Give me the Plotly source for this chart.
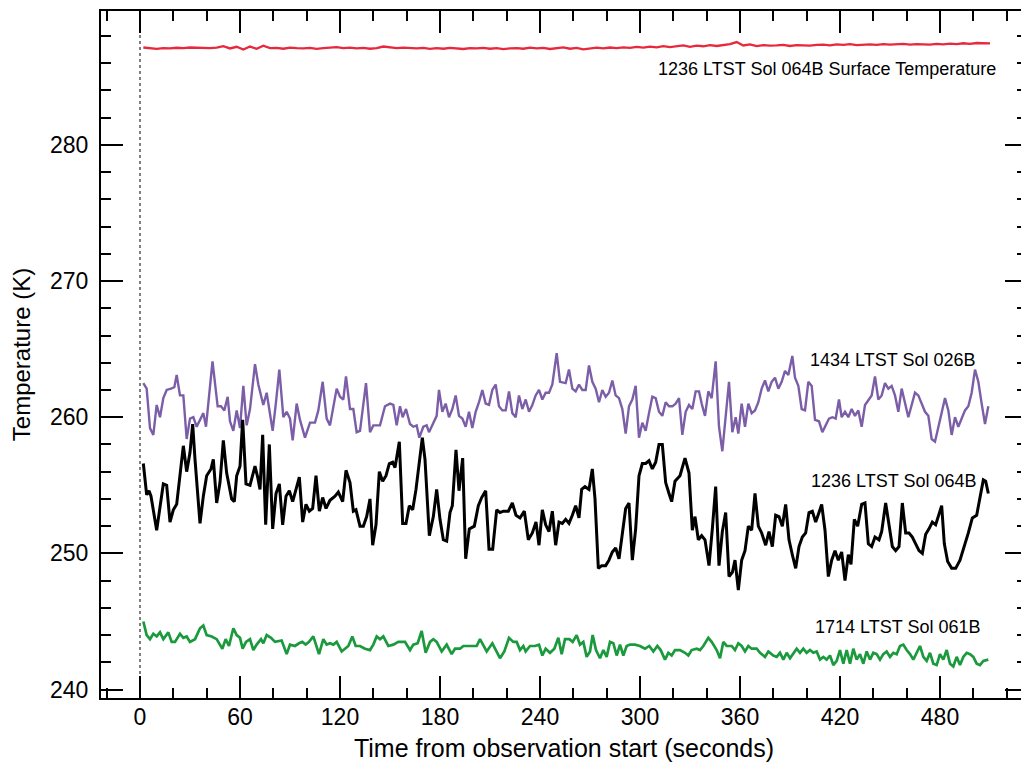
import plotly.graph_objects as go

# ---------------- data ----------------
black_t = [2, 4, 5.4, 6.6, 10, 14, 16, 18, 20, 22, 26, 28, 30, 31.6, 33, 36, 38, 40, 42.6, 44,
           46, 48, 50, 52, 55, 56.6, 58, 60, 61.6, 63.6, 66, 69, 70.6, 72, 73.6, 75.4, 77.6, 79.6, 81.6, 83.6,
           85.6, 87.6, 89.6, 91.6, 93.6, 95.6, 97.6, 99.6, 101.6, 103.6, 105.6, 107.6, 109.6, 111.6, 114, 117, 119, 121.6, 123.6, 126,
           128, 129.6, 132, 134, 136, 138, 139.6, 141.6, 143.6, 145.6, 147.6, 149.6, 151.6, 153, 155.6, 157.6, 159.6, 161.6, 163.6, 165.6,
           169.4, 171, 173.6, 176, 178, 180, 182, 184, 186, 187.4, 189.6, 191.4, 193.6, 195.4, 197.6, 200.6, 203, 205, 207.4, 209.4,
           211.6, 214, 216, 218, 221, 223.4, 225.6, 228, 230.6, 233, 235.4, 237.6, 239.4, 241.4, 243.4, 245.4, 247.4, 249.4, 251.4, 253.4,
           255.4, 257.4, 259.4, 261.4, 263.4, 265, 267, 269.4, 271.4, 273, 275, 277, 279.4, 281.4, 283.4, 285.4, 287.4, 289.4, 291.4, 293.4,
           295.4, 297.4, 299.4, 301.4, 303.4, 305.4, 307.4, 309.4, 311.4, 313.4, 315.4, 317.4, 319, 321, 324, 327, 329.4, 331.4, 333, 335,
           337, 339, 341.4, 343.4, 345.4, 347.4, 349.4, 351.4, 353.4, 355.4, 357, 359, 361, 363, 365, 367, 369, 371, 373, 375.4,
           377.4, 379.4, 381.4, 383.4, 385.4, 387.4, 389.4, 391.4, 393.4, 395.4, 397.4, 399.4, 401.4, 403.4, 405.4, 407.4, 409, 411, 413, 415,
           417, 419, 421, 423, 425, 426.6, 428.6, 430.6, 433, 435, 437, 439, 441, 443.4, 445, 447.4, 449.4, 451.4, 453.4, 455.4,
           457.4, 459.4, 461.4, 463.4, 465.4, 467.4, 469.4, 471.4, 473.4, 475.4, 477.4, 479, 481, 482.6, 484.6, 487, 489.4, 492, 494.6, 497,
           499.4, 502, 504, 506, 507.4, 509]
black_T = [256.6, 254.3, 254.6, 254.2, 251.7, 255.1, 255.0, 252.3, 253.2, 253.6, 257.9, 256.0, 257.4, 259.5, 256.9, 252.2, 254.2, 255.7, 256.2, 256.9,
           253.7, 255.2, 258.3, 255.9, 254.0, 253.8, 255.7, 256.4, 259.8, 255.1, 255.0, 256.4, 255.6, 254.7, 258.7, 252.1, 258.0, 251.8, 254.4, 255.1,
           252.1, 254.2, 254.6, 253.8, 254.7, 255.6, 252.3, 253.6, 253.1, 253.3, 255.7, 253.1, 254.1, 253.3, 253.9, 254.2, 254.5, 253.8, 256.1, 255.2,
           253.1, 253.2, 252.0, 252.0, 252.7, 254.0, 250.6, 252.1, 256.0, 255.3, 255.7, 256.6, 256.7, 256.3, 258.2, 252.2, 252.2, 253.5, 253.2, 254.7,
           258.5, 256.9, 251.3, 252.7, 254.7, 252.5, 251.0, 250.9, 253.0, 253.5, 257.6, 254.6, 257.0, 249.6, 251.8, 252.0, 253.5, 254.1, 254.6, 250.3,
           250.3, 253.2, 253.0, 253.1, 253.1, 253.7, 252.8, 252.6, 253.1, 251.0, 251.5, 252.3, 250.6, 253.2, 252.1, 251.6, 253.1, 250.6, 252.3, 252.2,
           252.5, 252.2, 252.8, 253.5, 252.6, 254.7, 254.9, 254.7, 256.2, 254.0, 248.9, 249.1, 249.1, 249.5, 250.1, 250.4, 249.6, 251.5, 253.3, 253.7,
           249.5, 251.8, 255.7, 256.6, 256.6, 256.8, 256.2, 256.7, 258.0, 258.0, 255.2, 254.4, 253.8, 255.3, 255.7, 257.0, 255.9, 251.7, 252.7, 251.0,
           251.3, 251.0, 249.1, 251.8, 254.9, 249.1, 251.6, 253.0, 248.3, 248.6, 249.5, 247.3, 249.5, 250.2, 252.0, 251.7, 254.4, 252.0, 251.5, 250.6,
           251.6, 250.5, 252.8, 252.7, 252.0, 253.6, 251.0, 249.9, 248.9, 250.5, 251.2, 251.5, 253.0, 253.1, 252.3, 253.0, 253.6, 251.7, 248.3, 249.5,
           250.2, 249.5, 250.1, 248.0, 249.9, 249.2, 252.5, 252.0, 253.6, 253.7, 250.7, 250.5, 251.2, 251.0, 251.6, 253.7, 252.0, 250.5, 250.2, 250.5,
           253.7, 251.5, 251.5, 251.2, 250.7, 250.2, 250.0, 251.4, 251.8, 252.3, 252.1, 252.7, 253.5, 250.7, 249.4, 248.9, 248.9, 249.5, 250.5, 251.5,
           252.6, 252.8, 254.1, 255.4, 255.3, 254.4]

purple_t = [2, 4, 6, 8, 10, 12, 14, 16, 18.6, 20.6, 22, 24, 26, 28, 30, 32, 34, 38, 39.6, 42,
            43.5, 46.6, 48.6, 50.6, 52.6, 54, 56, 58, 60, 62, 64, 66, 69, 71, 74, 76, 79.6, 81.6, 83.6, 86,
            88, 90, 91.6, 94, 96, 99, 102, 105, 107, 109.6, 112, 114, 118, 120, 122, 123.6, 126, 128, 130, 132,
            135.6, 138, 140, 144, 147, 150, 152, 154, 156, 157.6, 159.6, 162, 164, 166, 167.6, 170, 172, 173.4, 176, 178,
            179.4, 181.4, 183.4, 185.4, 187.4, 189.4, 191.4, 193.4, 195.4, 197.4, 199.4, 201.4, 203.4, 205.4, 207.4, 209.4, 211.4, 213.4, 215.4, 217.4,
            219.4, 221.4, 223.4, 225.4, 227.4, 229.4, 231.4, 233.4, 235.4, 237.4, 239.4, 241.4, 243.4, 245.4, 247.4, 250, 252, 255.4, 257.4, 259.4,
            261.4, 263.4, 265.4, 267.4, 269.4, 271.4, 273.4, 275.4, 277.4, 279.4, 281.4, 283.4, 285.4, 287.4, 289.4, 291.4, 293.4, 295.4, 297.4, 299.4,
            301.4, 303.4, 305.4, 307.4, 309.4, 311.4, 313.4, 315.4, 317.4, 319.4, 321.4, 323.4, 325.4, 327.4, 329.4, 331.4, 333.4, 335.4, 337, 339,
            341, 343, 345.4, 347.4, 349.4, 351.4, 353.4, 355.4, 357.4, 359, 361, 363, 365, 367, 369, 371, 373, 375, 377, 379,
            381, 383, 385, 387, 389, 391.4, 393, 395, 397, 399, 401, 403, 405, 407.4, 409.4, 411.4, 413.4, 415.4, 417.4, 419.4,
            421, 423, 425, 427, 429, 431, 433, 435, 437, 439, 441, 443, 445, 447, 449, 451, 453, 455, 457, 459,
            461, 463, 465, 467, 469, 471, 473, 475, 477, 479, 481, 483, 485, 487, 489, 491, 493, 495, 497, 499,
            501, 503, 505, 507, 509]
purple_T = [262.5, 262.1, 259.2, 258.7, 260.9, 260.0, 261.4, 262.0, 262.1, 262.2, 263.1, 261.6, 261.6, 258.4, 259.9, 260.0, 259.3, 260.3, 259.3, 262.1,
            264.1, 260.8, 260.8, 260.5, 261.5, 259.7, 259.0, 260.5, 259.2, 262.3, 259.4, 260.6, 263.9, 262.4, 260.9, 261.8, 259.0, 261.1, 263.5, 260.0,
            260.4, 259.9, 258.3, 261.0, 259.8, 258.5, 259.6, 259.6, 260.5, 262.6, 259.9, 259.4, 262.1, 261.5, 261.3, 263.0, 260.6, 260.6, 258.9, 259.0,
            262.5, 258.9, 259.4, 259.4, 260.8, 261.0, 260.9, 259.4, 260.8, 260.0, 260.6, 259.5, 259.3, 259.4, 258.5, 259.3, 259.4, 258.9, 259.6, 260.1,
            262.0, 260.4, 261.0, 260.0, 260.6, 261.6, 260.1, 259.9, 259.3, 260.4, 259.2, 260.4, 261.1, 262.0, 261.0, 260.9, 262.0, 262.4, 260.8, 260.5,
            260.5, 261.9, 260.3, 260.0, 261.6, 260.6, 261.3, 260.4, 260.9, 261.6, 262.0, 261.3, 261.8, 261.8, 262.4, 264.7, 262.6, 262.5, 263.5, 262.1,
            261.9, 262.4, 262.0, 262.0, 263.8, 262.6, 262.1, 261.1, 262.0, 261.5, 261.8, 262.7, 261.6, 261.4, 260.6, 258.8, 260.8, 261.3, 262.3, 258.5,
            259.6, 259.0, 260.3, 261.5, 261.4, 260.4, 260.1, 261.1, 260.8, 260.8, 261.0, 261.4, 258.7, 260.4, 260.9, 260.6, 261.9, 261.9, 261.0, 260.1,
            261.9, 261.4, 264.1, 259.3, 257.5, 260.0, 262.6, 258.9, 260.0, 258.8, 261.0, 259.3, 261.0, 260.3, 260.5, 261.1, 262.1, 262.7, 261.9, 262.6,
            262.9, 262.1, 262.6, 263.4, 263.1, 264.5, 262.9, 262.3, 260.6, 260.5, 262.6, 262.3, 259.8, 259.7, 258.9, 259.4, 259.9, 260.0, 259.9, 261.3,
            260.0, 260.4, 260.0, 260.6, 260.1, 260.5, 259.3, 260.9, 261.3, 261.6, 263.0, 261.3, 261.6, 262.5, 262.1, 262.3, 261.6, 260.4, 262.1, 261.1,
            260.0, 260.9, 261.8, 261.6, 261.0, 260.4, 260.1, 258.4, 258.2, 259.2, 260.4, 261.4, 260.5, 258.7, 260.0, 259.3, 259.9, 260.5, 260.8, 261.8,
            263.5, 262.6, 261.0, 259.5, 260.8]

green_t = [2, 4, 6, 8, 10, 12, 14, 17, 19, 21, 24, 26, 28, 30, 33, 36, 38, 40, 43, 46,
           49.4, 51.4, 53.4, 56, 58, 60, 61.6, 63.6, 66, 68, 70, 72.6, 74, 76, 78.6, 81, 85, 88, 90, 93,
           95.4, 97.4, 99.4, 101.4, 104, 107.4, 110, 112, 114, 116, 118, 121, 123, 125, 127.4, 129.4, 132, 135, 138, 140,
           142, 144, 146, 149, 152, 155, 159, 162, 164, 166.6, 169, 171.4, 174, 176, 178, 181, 184, 187, 189, 192,
           194, 197, 199, 202, 204, 206, 208, 211.4, 213.4, 216, 218.6, 221.4, 224, 226, 228, 230, 231.4, 234, 237, 239.4,
           241.4, 243.4, 246, 248.6, 251, 253, 255, 257.6, 259.6, 262, 264, 266, 268, 270, 271.6, 273.6, 276, 278, 280, 282,
           284, 286, 288, 290, 292, 294, 297, 300, 303, 305.6, 308, 310.4, 312.4, 315, 317, 319, 321, 324, 327, 329,
           331, 334, 336, 338, 341, 343, 346, 348, 350, 352, 355, 357, 359, 361, 363, 365, 367, 370, 372, 375,
           377, 380, 382, 384, 386, 388, 390, 392, 394, 396, 398, 400, 402, 404, 406, 408, 410, 412, 414, 416,
           418, 420, 422, 424, 426, 428, 430, 432, 434, 436, 438, 440, 442, 444, 446, 448, 450, 452, 454, 456,
           458, 460, 462, 464, 466, 468, 470, 472, 474, 476, 478, 480, 482, 484, 486, 488, 490, 492, 494, 496,
           498, 500, 502, 504, 506, 509]
green_T = [245.0, 244.0, 243.7, 244.1, 243.9, 244.2, 243.7, 244.2, 243.5, 243.5, 244.1, 243.8, 243.9, 243.5, 243.7, 244.5, 244.7, 244.0, 243.9, 243.7,
           243.0, 243.7, 243.2, 244.5, 244.0, 243.8, 243.0, 243.5, 243.7, 242.9, 243.3, 243.7, 243.4, 244.0, 243.8, 243.5, 243.6, 242.6, 243.3, 243.2,
           243.4, 243.5, 243.3, 243.5, 243.9, 242.6, 243.7, 243.3, 243.4, 243.3, 243.5, 242.8, 243.0, 243.2, 243.9, 243.2, 243.2, 243.0, 242.9, 243.3,
           243.9, 243.7, 243.9, 243.2, 243.3, 243.5, 243.5, 242.9, 243.3, 243.4, 244.3, 242.7, 243.5, 243.7, 243.5, 242.8, 243.3, 242.6, 243.0, 243.0,
           243.2, 243.2, 243.2, 243.2, 243.7, 243.3, 242.8, 243.4, 242.9, 242.3, 242.8, 243.8, 243.5, 243.5, 242.9, 243.2, 242.8, 243.2, 243.2, 243.3,
           242.5, 243.0, 242.7, 243.0, 243.8, 242.6, 243.7, 243.7, 243.5, 244.0, 243.3, 243.5, 242.4, 242.8, 244.0, 242.9, 242.3, 242.9, 242.4, 243.5,
           243.4, 242.5, 243.3, 242.5, 243.2, 243.3, 243.3, 243.2, 243.0, 243.2, 242.8, 243.2, 242.9, 242.2, 242.7, 242.5, 242.9, 242.9, 242.7, 242.5,
           242.9, 243.0, 242.9, 243.2, 243.8, 243.5, 242.9, 242.3, 243.5, 243.2, 243.2, 242.9, 243.4, 243.2, 242.8, 243.2, 243.0, 243.0, 242.7, 242.4,
           242.8, 242.5, 242.4, 242.7, 242.2, 242.7, 242.3, 242.7, 243.0, 242.7, 243.0, 242.7, 242.9, 242.7, 242.8, 242.2, 242.4, 242.2, 242.5, 241.8,
           242.1, 242.9, 241.9, 242.9, 241.9, 243.0, 242.2, 242.6, 241.9, 242.8, 242.2, 242.7, 242.6, 242.2, 242.6, 242.8, 242.4, 242.7, 242.6, 243.2,
           243.3, 242.9, 242.6, 242.2, 242.7, 243.2, 242.4, 242.1, 242.7, 241.9, 241.8, 242.6, 242.2, 242.9, 241.9, 241.7, 242.4, 241.8, 242.4, 242.7,
           242.6, 242.4, 241.9, 241.8, 242.1, 242.2]

red_t = [2, 6, 10, 14, 18, 22, 26, 30, 34, 38, 42, 46, 50, 54, 58, 62, 66, 70, 74, 78,
         82, 86, 90, 94, 98, 102, 106, 110, 114, 118, 122, 126, 130, 134, 138, 142, 146, 150, 154, 158,
         162, 166, 170, 174, 178, 182, 186, 190, 194, 198, 202, 206, 210, 214, 218, 222, 226, 230, 234, 238,
         242, 246, 250, 254, 258, 262, 266, 270, 274, 278, 282, 286, 290, 294, 298, 302, 306, 310, 314, 318,
         322, 326, 330, 334, 338, 342, 346, 350, 354, 358, 362, 366, 370, 374, 378, 382, 386, 390, 394, 398,
         402, 406, 410, 414, 418, 422, 426, 430, 434, 438, 442, 446, 450, 454, 458, 462, 466, 470, 474, 478,
         482, 486, 490, 494, 498, 502, 506, 510]
red_T = [287.15, 287.12, 287.05, 287.10, 287.08, 287.13, 287.10, 287.15, 287.12, 287.08,
         287.10, 287.14, 287.25, 287.08, 287.20, 287.00, 287.22, 287.05, 287.28, 287.10,
         287.12, 287.06, 287.14, 287.10, 287.08, 287.12, 287.05, 287.10, 287.15, 287.18,
         287.10, 287.14, 287.08, 287.12, 287.06, 287.10, 287.22, 287.15, 287.10, 287.14,
         287.12, 287.08, 287.12, 287.05, 287.10, 287.06, 287.12, 287.10, 287.04, 287.10,
         287.08, 287.12, 287.06, 287.10, 287.03, 287.08, 287.10, 287.06, 287.14, 287.08,
         287.12, 287.04, 287.10, 287.16, 287.06, 287.12, 287.02, 287.10, 287.14, 287.08,
         287.15, 287.10, 287.16, 287.12, 287.20, 287.14, 287.22, 287.16, 287.25, 287.18,
         287.22, 287.30, 287.20, 287.28, 287.24, 287.32, 287.26, 287.35, 287.40, 287.55,
         287.30, 287.38, 287.25, 287.32, 287.28, 287.30, 287.34, 287.26, 287.32, 287.30,
         287.28, 287.34, 287.36, 287.30, 287.38, 287.34, 287.40, 287.33, 287.36, 287.38,
         287.34, 287.40, 287.36, 287.38, 287.42, 287.36, 287.40, 287.38, 287.36, 287.42,
         287.38, 287.44, 287.40, 287.46, 287.42, 287.48, 287.44, 287.45]

labels = ["1236 LTST Sol 064B Surface Temperature", "1434 LTST Sol 026B",
          "1236 LTST Sol 064B", "1714 LTST Sol 061B"]
label_x = [515, 502, 503, 505]
label_y = [285.6, 264.2, 255.3, 244.6]

x_ticks = [0, 60, 120, 180, 240, 300, 360, 420, 480]
y_ticks = [240, 250, 260, 270, 280]

FONT = "Liberation Sans, Arial, Helvetica, sans-serif"

fig = go.Figure()
fig.add_trace(go.Scatter(x=red_t, y=red_T, mode="lines", line=dict(color="#e8283c", width=2.3), showlegend=False))
fig.add_trace(go.Scatter(x=purple_t, y=purple_T, mode="lines", line=dict(color="#7b5ea7", width=2.4), showlegend=False))
fig.add_trace(go.Scatter(x=black_t, y=black_T, mode="lines", line=dict(color="#000000", width=3), showlegend=False))
fig.add_trace(go.Scatter(x=green_t, y=green_T, mode="lines", line=dict(color="#1a9a3c", width=2.7), showlegend=False))

for txt, lx, ly in zip(labels, label_x, label_y):
    fig.add_annotation(x=lx, y=ly, text=txt, showarrow=False, xanchor="right", yanchor="middle",
                       font=dict(family=FONT, size=18, color="black"))

fig.add_shape(type="line", x0=0, x1=0, y0=0, y1=1, xref="x", yref="paper",
              line=dict(color="black", width=1, dash="dot"))

# The page body has an 8 px default margin, so the figure is sized/margined to compensate.
fig.update_layout(
    width=1021, height=754,
    margin=dict(l=93, r=2, t=3, b=64),
    paper_bgcolor="white", plot_bgcolor="white",
    font=dict(family=FONT, color="black"),
    xaxis=dict(range=[-23.4, 532.2], tickvals=x_ticks, ticks="inside", ticklen=22, tickwidth=1.5,
               tickcolor="black", showline=True, linewidth=2, linecolor="black", mirror="allticks",
               showgrid=False, zeroline=False, tickfont=dict(size=23, family=FONT),
               ticklabelstandoff=-3, automargin=False,
               minor=dict(ticks="inside", ticklen=10, dtick=20, tick0=0, tickwidth=1.5, tickcolor="black", showgrid=False),
               title=dict(text="Time from observation start (seconds)", font=dict(size=25, family=FONT), standoff=12)),
    yaxis=dict(range=[239.38, 289.83], tickvals=y_ticks, ticks="inside", ticklen=22, tickwidth=1.5,
               tickcolor="black", showline=True, linewidth=2, linecolor="black", mirror="allticks",
               showgrid=False, zeroline=False, tickfont=dict(size=23, family=FONT),
               ticklabelstandoff=6, automargin=False,
               minor=dict(ticks="inside", ticklen=10, dtick=2, tick0=240, tickwidth=1.5, tickcolor="black", showgrid=False),
               title=dict(text="Temperature (K)", font=dict(size=24, family=FONT), standoff=13)),
)

fig.write_html("out.html")
